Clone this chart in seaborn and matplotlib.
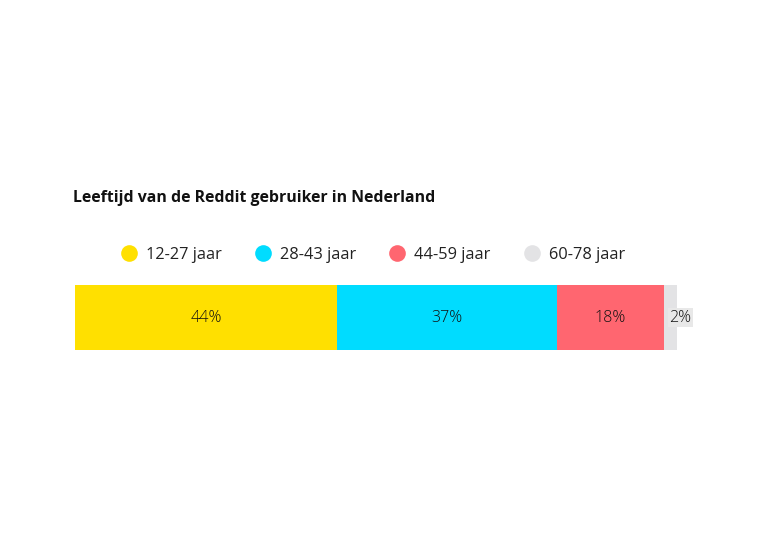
import pandas as pd
import seaborn as sns
import matplotlib.pyplot as plt
from matplotlib.lines import Line2D

# data
groups = ["12-27 jaar", "28-43 jaar", "44-59 jaar", "60-78 jaar"]
shares = [43.5, 36.5, 17.9, 2.1]
labels = ["44%", "37%", "18%", "2%"]
colors = ["#FFE000", "#00DCFF", "#FF6670", "#E3E3E5"]

sns.set_style("white")
plt.rcParams['font.family'] = ['Open Sans', 'DejaVu Sans']

d = pd.DataFrame({'group': groups, 'share': shares, 'label': labels, 'color': colors})
d['end'] = d['share'].cumsum()
d['start'] = d['end'] - d['share']
d['row'] = 'Reddit'

fig = plt.figure(figsize=(7.68, 5.43), dpi=100)
ax = fig.add_axes([75 / 768, (543 - 350) / 543, 602 / 768, 65 / 543])

# stacked bar: draw cumulative totals from largest to smallest
for i in reversed(range(len(d))):
    sns.barplot(x=[d['end'][i]], y=[d['row'][i]], color=d['color'][i],
                width=1.0, saturation=1, ax=ax, orient='h', linewidth=0)

ax.set_xlim(0, 100)
ax.set_ylim(0.5, -0.5)
ax.axis('off')

for i, r in d.iterrows():
    if r['share'] > 5:
        ax.text((r['start'] + r['end']) / 2, 0, r['label'], ha='center', va='center',
                fontsize=11.5, fontweight='light', color='#111111')
    else:
        ax.text(r['start'] + 0.8, 0, r['label'], ha='left', va='center',
                fontsize=11.5, fontweight='light', color='#111111',
                bbox=dict(boxstyle='square,pad=0.1', facecolor='#E8E8E8', edgecolor='none'))

fig.text(73 / 768, 1 - 198 / 543, 'Leeftijd van de Reddit gebruiker in Nederland',
         fontsize=11.4, fontweight='bold', ha='left', va='center', color='#111111')

handles = [Line2D([], [], marker='o', linestyle='', markersize=12,
                  markerfacecolor=c, markeredgecolor='none') for c in colors]
fig.legend(handles, groups, loc='center', bbox_to_anchor=(372 / 768, 1 - 255 / 543),
           ncol=4, frameon=False, fontsize=11.8, handletextpad=0.45, columnspacing=1.9,
           handlelength=1.2, labelcolor='#222222')

plt.savefig('out.png', dpi=100)
